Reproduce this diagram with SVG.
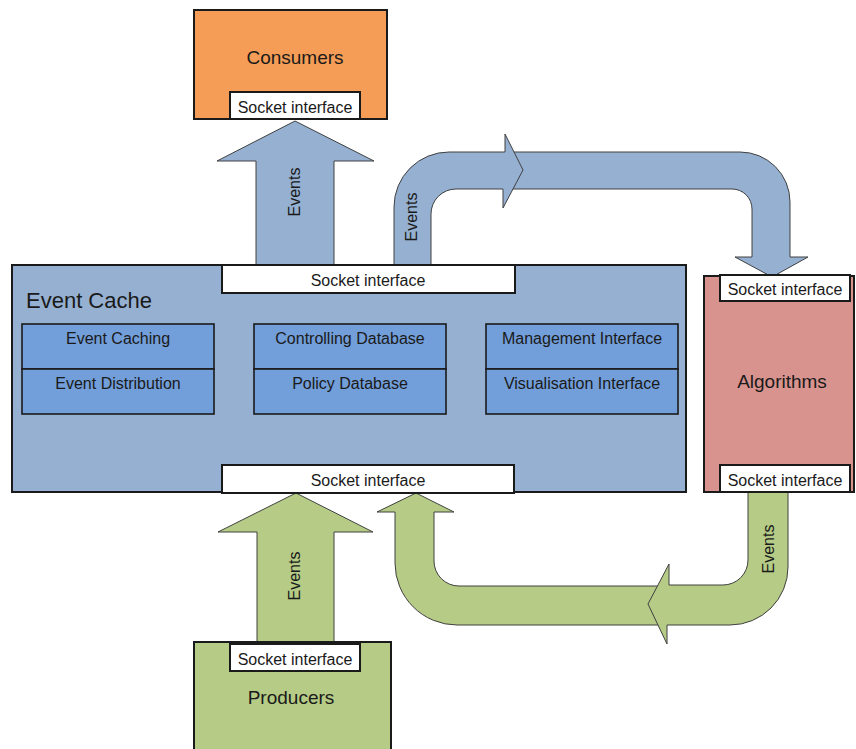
<svg xmlns="http://www.w3.org/2000/svg" width="856" height="749" viewBox="0 0 856 749">
<style>
text{font-family:"Liberation Sans",Arial,sans-serif;fill:#1a1a1a}
.box{stroke:#1a1a1a;stroke-width:2}
.sock{fill:#fff;stroke:#1a1a1a;stroke-width:2}
.inner{fill:#729ED9;stroke:#1a1a1a;stroke-width:1.6}
.ab{fill:#95B0D1;stroke:#404040;stroke-width:1}
.ag{fill:#B5CB86;stroke:#404040;stroke-width:1}
.s16{font-size:16px;text-anchor:middle}
.s19{font-size:19px;text-anchor:middle}
</style>
<g id="connectors">
<path class="ab" d="M256,265 L256,161 L217,161 L295,121 L374,161 L334,161 L334,265 Z"/>
<path class="ab" d="M510,152 L740,152 A50,50 0 0 1 790,202 L790,257 L808,257 L772,277 L735,257 L752,257 L752,209 A20,20 0 0 0 732,189 L510,189 Z"/>
<path class="ab" d="M394,265 L394,207 A55,55 0 0 1 449,152 L505,152 L505,134 L523,170 L503,208 L503,189 L456,189 A25,25 0 0 0 431,214 L431,265 Z"/>
<path class="ag" d="M257,642 L257,532 L218,532 L296,493 L373,532 L334,532 L334,642 Z"/>
<path class="ag" d="M660,625 L457,625 A62,62 0 0 1 395,563 L395,512 L377,512 L416,493 L454,512 L434,512 L434,561 A25,25 0 0 0 459,586 L660,586 Z"/>
<path class="ag" d="M748,492 L748,560 A25,25 0 0 1 723,585 L669,585 L669,564 L648,604 L667,644 L667,625 L730,625 A58,58 0 0 0 788,567 L788,492 Z"/>
<text class="s16" transform="translate(300,192) rotate(-90)">Events</text>
<text class="s16" transform="translate(417,217) rotate(-90)">Events</text>
<text class="s16" transform="translate(300,576) rotate(-90)">Events</text>
<text class="s16" transform="translate(774,549) rotate(-90)">Events</text>
</g>
<g id="consumers">
<rect class="box" x="194" y="10" width="193" height="109" fill="#F59D56"/>
<text class="s19" x="295" y="64">Consumers</text>
<rect class="sock" x="230" y="92" width="130" height="27"/>
<text class="s16" x="295" y="113">Socket interface</text>
</g>
<g id="event-cache">
<rect class="box" x="12" y="265" width="674" height="227" fill="#95B0D1"/>
<text x="26" y="308" font-size="22">Event Cache</text>
<rect class="sock" x="222" y="265" width="293" height="28"/>
<text class="s16" x="368" y="286">Socket interface</text>
<rect class="sock" x="222" y="465" width="292" height="28"/>
<text class="s16" x="368" y="486">Socket interface</text>
</g>
<g id="event-caching">
<rect class="inner" x="22" y="324" width="192" height="45"/>
<text class="s16" x="118" y="344">Event Caching</text>
</g>
<g id="event-distribution">
<rect class="inner" x="22" y="369" width="192" height="45"/>
<text class="s16" x="118" y="389">Event Distribution</text>
</g>
<g id="controlling-database">
<rect class="inner" x="254" y="324" width="192" height="45"/>
<text class="s16" x="350" y="344">Controlling Database</text>
</g>
<g id="policy-database">
<rect class="inner" x="254" y="369" width="192" height="45"/>
<text class="s16" x="350" y="389">Policy Database</text>
</g>
<g id="management-interface">
<rect class="inner" x="486" y="324" width="192" height="45"/>
<text class="s16" x="582" y="344">Management Interface</text>
</g>
<g id="visualisation-interface">
<rect class="inner" x="486" y="369" width="192" height="45"/>
<text class="s16" x="582" y="389">Visualisation Interface</text>
</g>
<g id="algorithms">
<rect class="box" x="704" y="276" width="150" height="216" fill="#D9938E"/>
<text class="s19" x="782" y="388">Algorithms</text>
<rect class="sock" x="720" y="275" width="130" height="26"/>
<text class="s16" x="785" y="295">Socket interface</text>
<rect class="sock" x="720" y="465" width="130" height="27"/>
<text class="s16" x="785" y="486">Socket interface</text>
</g>
<g id="producers">
<rect class="box" x="194" y="642" width="197" height="120" fill="#B5CB86"/>
<text class="s19" x="291" y="704">Producers</text>
<rect class="sock" x="230" y="644" width="130" height="27"/>
<text class="s16" x="295" y="665">Socket interface</text>
</g>
</svg>
